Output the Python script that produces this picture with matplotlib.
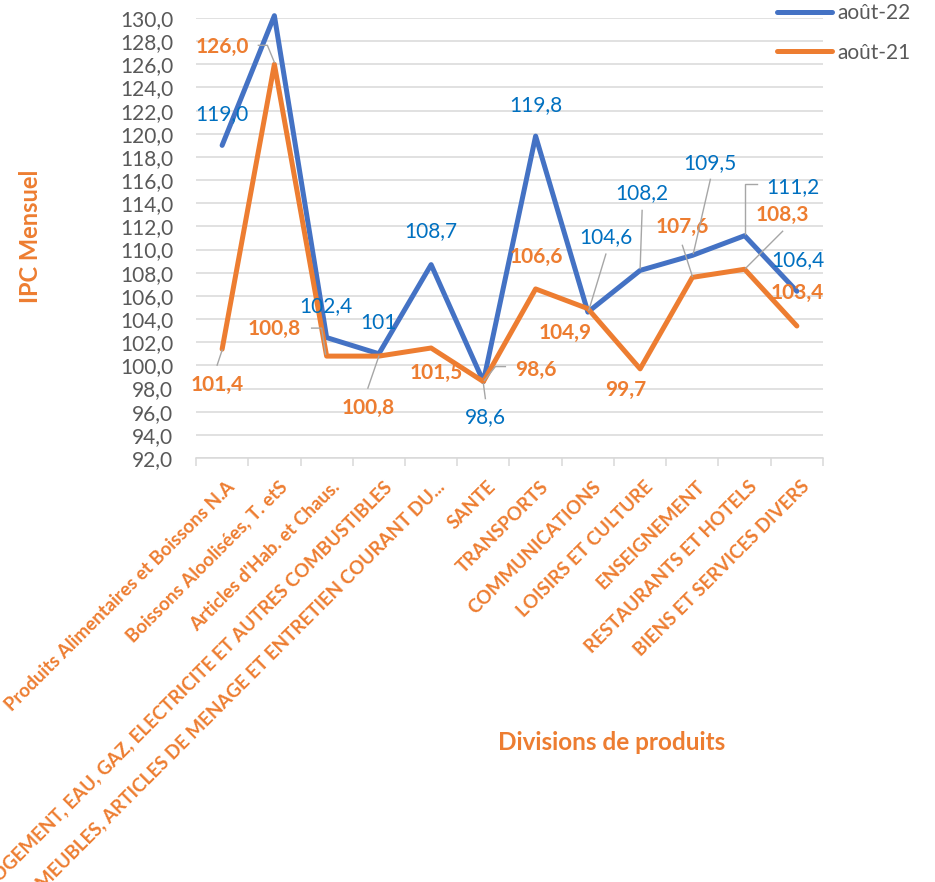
import numpy as np
import matplotlib
matplotlib.use('Agg')
import matplotlib.pyplot as plt
from matplotlib.lines import Line2D
from matplotlib.transforms import IdentityTransform
from matplotlib.ticker import FuncFormatter

# ---------------- data ----------------
categories = [
    "Produits Alimentaires et Boissons N.A",
    "Boissons Aloolisées, T. etS",
    "Articles d'Hab. et Chaus.",
    "LOGEMENT, EAU, GAZ, ELECTRICITE ET AUTRES COMBUSTIBLES",
    "MEUBLES, ARTICLES DE MENAGE ET ENTRETIEN COURANT DU...",
    "SANTE",
    "TRANSPORTS",
    "COMMUNICATIONS",
    "LOISIRS ET CULTURE",
    "ENSEIGNEMENT",
    "RESTAURANTS ET HOTELS",
    "BIENS ET SERVICES DIVERS",
]
aout22 = [119.0, 130.2, 102.4, 101.0, 108.7, 98.6, 119.8, 104.6, 108.2, 109.5, 111.2, 106.4]
aout21 = [101.4, 126.0, 100.8, 100.8, 101.5, 98.6, 106.6, 104.9, 99.7, 107.6, 108.3, 103.4]
labels22 = ["119,0", None, "102,4", "101", "108,7", "98,6", "119,8", "104,6", "108,2", "109,5", "111,2", "106,4"]
labels21 = ["101,4", "126,0", "100,8", "100,8", "101,5", "98,6", "106,6", "104,9", "99,7", "107,6", "108,3", "103,4"]
series_names = ["août-22", "août-21"]
y_ticks = np.arange(92, 131, 2)

# ---------------- label placement (pixel offsets from the point, +y up) ----------------
off22 = [(0, 31), None, (-1, 31), (0, 31), (0, 34), (2, -36), (0, 31), (18, 75),
         (2, 77), (18, 92), (48, 49), (1, 31)]
off21 = [(-5, -36), (-52, 17), (-52, 27), (-11, -52), (5, -25), (53, 12), (1, 32),
         (-23, -24), (-14, -21), (-10, 50), (38, 54), (0, 33)]
leaders22 = {5: [(2, -17), (0, -2)], 7: [(18, 58), (1, 2)], 8: [(2, 60), (0, 2)],
             9: [(18, 76), (1, 2)], 10: [(12, 52), (0, 52), (0, 2)]}
leaders21 = {0: [(-5, -16), (0, -1)], 1: [(-16, 19), (-7, 19), (0, 2)],
             2: [(-15, 28), (-5, 28), (-1, 2)], 3: [(-11, -32), (0, 0)],
             5: [(22, 15), (12, 15), (1, 1)], 9: [(-10, 32), (0, 1)],
             10: [(38, 38), (1, 1)]}

BLUE = '#4472C4'
ORANGE = '#ED7D31'
LBLUE = '#0070C0'
GRID = '#D9D9D9'
TXT = '#595959'
FONT = 'Lato'

plt.rcParams['font.family'] = [FONT, 'DejaVu Sans']

W, H = 935, 882
fig = plt.figure(figsize=(W / 100, H / 100), dpi=100)
ax = fig.add_axes([196 / W, (H - 458) / H, 627 / W, 440 / H])

x = np.arange(len(categories))
ax.set_xlim(-0.5, len(categories) - 0.5)
ax.set_ylim(92, 130)

ax.plot(x, aout22, color=BLUE, lw=3.6, solid_capstyle='round', solid_joinstyle='round',
        clip_on=False, zorder=3, label=series_names[0])
ax.plot(x, aout21, color=ORANGE, lw=3.6, solid_capstyle='round', solid_joinstyle='round',
        clip_on=False, zorder=3, label=series_names[1])

# grid / axes
ax.set_yticks(y_ticks)
ax.yaxis.set_major_formatter(FuncFormatter(lambda v, p: f"{v:.1f}".replace('.', ',')))
ax.tick_params(axis='y', length=0, pad=16.5, labelsize=15, labelcolor=TXT)
ax.grid(axis='y', color=GRID, lw=1.1, zorder=0)
for s in ['left', 'right', 'top']:
    ax.spines[s].set_visible(False)
ax.spines['bottom'].set_color(GRID)
ax.spines['bottom'].set_linewidth(1.1)
ax.set_xticks(np.arange(-0.5, len(categories), 1))
ax.set_xticklabels([])
ax.tick_params(axis='x', length=6, color=GRID, width=1.1, direction='out')

# category labels
for i, c in enumerate(categories):
    ax.annotate(c, xy=(i, 0), xycoords=('data', 'axes fraction'), xytext=(4, -20),
                textcoords='offset pixels', rotation=45, rotation_mode='anchor',
                ha='right', va='top', fontsize=13.5, fontweight='bold', color=ORANGE,
                annotation_clip=False)

# axis titles
ax.set_ylabel('IPC Mensuel', fontsize=17, fontweight='bold', color=ORANGE)
ax.yaxis.label.set_va('center')
ax.yaxis.set_label_coords((30 - 196) / 627, (458 - 236) / 440)
ax.set_xlabel('Divisions de produits', fontsize=17.5, fontweight='bold', color=ORANGE)
ax.xaxis.label.set_va('center')
ax.xaxis.set_label_coords((612 - 196) / 627, (458 - 742) / 440)

# data labels
for vals, labs, offs, col, wt in [(aout22, labels22, off22, LBLUE, 'normal'),
                                  (aout21, labels21, off21, ORANGE, 'bold')]:
    for i, (v, t, o) in enumerate(zip(vals, labs, offs)):
        if t is None:
            continue
        ax.annotate(t, xy=(i, v), xytext=o, textcoords='offset pixels', ha='center',
                    va='center', fontsize=15, color=col, fontweight=wt, zorder=6,
                    annotation_clip=False)

# leader lines
for vals, leaders in [(aout22, leaders22), (aout21, leaders21)]:
    for i, pts in leaders.items():
        px, py = ax.transData.transform((i, vals[i]))
        xs = [px + dx for dx, dy in pts]
        ys = [py + dy for dx, dy in pts]
        fig.add_artist(Line2D(xs, ys, transform=IdentityTransform(), color='#A6A6A6',
                              lw=1.0, zorder=5))

# legend
leg = fig.legend(loc='upper left', bbox_to_anchor=(777 / W, 1 - 3 / H),
                 frameon=False, fontsize=15, handlelength=2.64, handletextpad=0.25,
                 labelspacing=0.95, borderpad=0, borderaxespad=0)
for t in leg.get_texts():
    t.set_color(TXT)

fig.savefig('out.png', dpi=100)
